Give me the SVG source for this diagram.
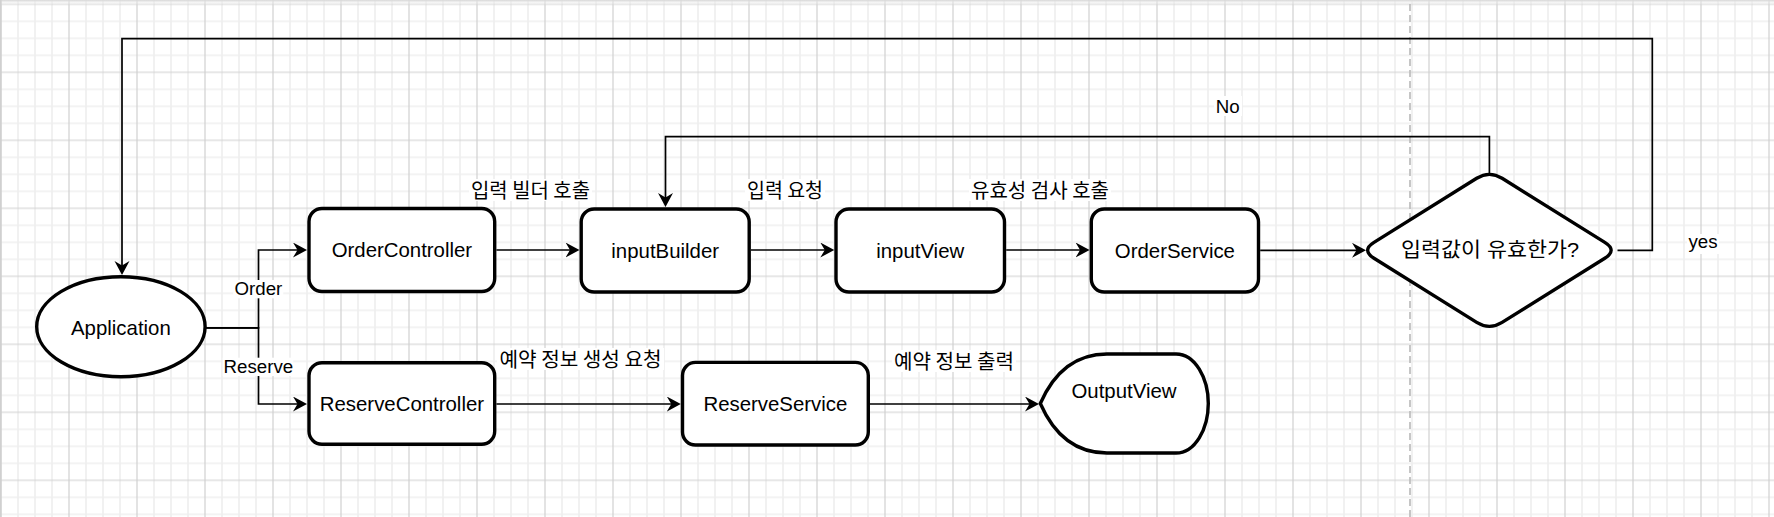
<svg xmlns="http://www.w3.org/2000/svg" width="1774" height="517" viewBox="0 0 1774 517">
<style>
.node{fill:#fff;stroke:#000;stroke-width:3.4}
.edge{fill:none;stroke:#000;stroke-width:1.7}
.arrow{marker-end:url(#arr)}
.t{font-family:"Liberation Sans",Arial,"Noto Sans CJK KR",sans-serif;font-size:20.4px;text-anchor:middle;fill:#000}
.l{font-family:"Liberation Sans",Arial,sans-serif;font-size:18.7px;text-anchor:middle;fill:#000}
.ko{font-family:"Noto Sans CJK KR",sans-serif;font-size:20px;text-anchor:middle;fill:#000}
.bg{fill:#fff}
</style>
<defs>
<pattern id="grid" x="1" y="4.3" width="68" height="68" patternUnits="userSpaceOnUse">
<path d="M17 0V68M34 0V68M51 0V68M0 17H68M0 34H68M0 51H68" stroke="#efefef" stroke-width="1.7" fill="none"/>
<path d="M0 0V68M68 0V68M0 0H68M0 68H68" stroke="#d0d0d0" stroke-width="1.2" fill="none"/>
</pattern>
<linearGradient id="topband" x1="0" y1="0" x2="0" y2="1">
<stop offset="0" stop-color="#d6d6d6"/>
<stop offset="1" stop-color="#ffffff" stop-opacity="0"/>
</linearGradient>
<marker id="arr" markerUnits="userSpaceOnUse" markerWidth="16" markerHeight="16" refX="10" refY="7.5" orient="auto">
<path d="M0,0 L14,7.5 L0,15 L4.5,7.5 Z" fill="#000"/>
</marker>
</defs>
<g id="background">
<rect x="0" y="0" width="1774" height="517" fill="#fff"/>
<rect x="0" y="0" width="1774" height="517" fill="url(#grid)"/>
<rect x="0" y="0" width="1774" height="5" fill="url(#topband)"/>
<rect x="0" y="0" width="1.5" height="517" fill="#d0d0d0"/>
<line x1="1410" y1="4" x2="1410" y2="517" stroke="#bdbdbd" stroke-width="1.7" stroke-dasharray="7 4"/>
</g>
<g id="connectors">
<path class="edge arrow" d="M205,327.8 H258.5 V250 H303"/>
<path class="edge arrow" d="M205,327.8 H258.5 V404 H303"/>
<path class="edge arrow" d="M1617.5,250.3 H1652.3 V38.7 H122 V271"/>
<path class="edge arrow" d="M1489.4,173 V136.7 H665.5 V203"/>
<path class="edge arrow" d="M496.4,250 H575.5"/>
<path class="edge arrow" d="M751,250 H830.3"/>
<path class="edge arrow" d="M1006.2,250 H1085.6"/>
<path class="edge arrow" d="M1260.2,250.3 H1362"/>
<path class="edge arrow" d="M496.4,404 H676.8"/>
<path class="edge arrow" d="M870,404 H1035"/>
<rect class="bg" x="233.3" y="280" width="50" height="18.3"/>
<text class="l" x="258.4" y="295">Order</text>
<rect class="bg" x="222.7" y="357.7" width="70.6" height="18.3"/>
<text class="l" x="258.4" y="373.3">Reserve</text>
<rect class="bg" x="1214" y="96" width="28" height="20"/>
<text class="l" x="1227.7" y="113.3">No</text>
<rect class="bg" x="1687" y="234" width="32" height="20"/>
<text class="l" x="1703" y="248.3">yes</text>
<rect class="bg" x="469" y="179" width="123" height="22"/>
<text class="ko" x="530.5" y="197.5" textLength="119" lengthAdjust="spacingAndGlyphs">입력 빌더 호출</text>
<rect class="bg" x="745" y="179" width="80" height="22"/>
<text class="ko" x="785" y="197.5" textLength="76" lengthAdjust="spacingAndGlyphs">입력 요청</text>
<rect class="bg" x="969" y="179" width="142" height="22"/>
<text class="ko" x="1040" y="197.5" textLength="138" lengthAdjust="spacingAndGlyphs">유효성 검사 호출</text>
<rect class="bg" x="497" y="348" width="167" height="22"/>
<text class="ko" x="580.5" y="366.5" textLength="162" lengthAdjust="spacingAndGlyphs">예약 정보 생성 요청</text>
<rect class="bg" x="892" y="350" width="124" height="22"/>
<text class="ko" x="954" y="368.5" textLength="120" lengthAdjust="spacingAndGlyphs">예약 정보 출력</text>
</g>
<g id="application">
<ellipse class="node" cx="120.9" cy="326.7" rx="84.2" ry="50"/>
<text class="t" x="120.9" y="334.5">Application</text>
</g>
<g id="orderController">
<rect class="node" x="309" y="208.5" width="185.7" height="83" rx="13" ry="13"/>
<text class="t" x="401.9" y="257.3">OrderController</text>
</g>
<g id="inputBuilder">
<rect class="node" x="581.2" y="209" width="168" height="83" rx="13" ry="13"/>
<text class="t" x="665.2" y="257.5">inputBuilder</text>
</g>
<g id="inputView">
<rect class="node" x="836" y="209" width="168.5" height="83" rx="13" ry="13"/>
<text class="t" x="920.2" y="257.5">inputView</text>
</g>
<g id="orderService">
<rect class="node" x="1091.3" y="209" width="167.2" height="83" rx="13" ry="13"/>
<text class="t" x="1174.9" y="257.5">OrderService</text>
</g>
<g id="decision">
<path class="node" d="M1502.1,178.3 L1604.8,242.4 Q1617.5,250.35 1604.8,258.3 L1502.1,322.4 Q1489.4,330.3 1476.7,322.4 L1374,258.3 Q1361.3,250.35 1374,242.4 L1476.7,178.3 Q1489.4,170.4 1502.1,178.3 Z"/>
<text class="t" x="1490" y="257" textLength="178" lengthAdjust="spacingAndGlyphs">입력값이 유효한가?</text>
</g>
<g id="reserveController">
<rect class="node" x="309" y="362.7" width="185.7" height="81.6" rx="13" ry="13"/>
<text class="t" x="401.9" y="411">ReserveController</text>
</g>
<g id="reserveService">
<rect class="node" x="682.5" y="362.4" width="185.8" height="82.6" rx="13" ry="13"/>
<text class="t" x="775.4" y="410.7">ReserveService</text>
</g>
<g id="outputView">
<path class="node" d="M1040.3,403.5 Q1062,354 1107,354 L1176,354 C1195,354 1208.3,378 1208.3,403.5 C1208.3,429 1195,453 1176,453 L1107,453 Q1062,453 1040.3,403.5 Z"/>
<text class="t" x="1124" y="398.3">OutputView</text>
</g>
</svg>
